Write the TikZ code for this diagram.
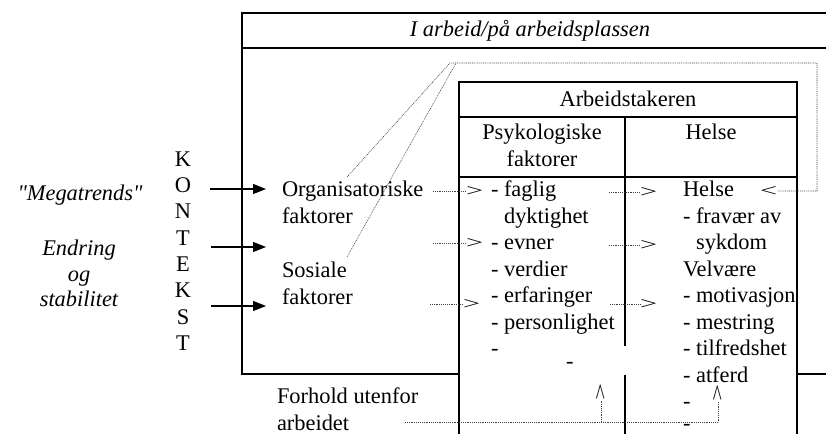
\documentclass[tikz,border=0pt]{standalone}
\usepackage{fontspec}
\setmainfont{Liberation Serif}[Ligatures=TeXOff]
\usetikzlibrary{arrows.meta}
\newcommand{\bodysize}{\fontsize{16.8pt}{19.7pt}\selectfont}
\newcommand{\chevR}{\scalebox{1.35}[0.78]{>}}
\newcommand{\chevL}{\scalebox{1.35}[0.78]{<}}
\begin{document}
\begin{tikzpicture}[x=0.75pt, y=-0.75pt, font=\bodysize,
  every node/.style={inner sep=0pt, outer sep=0pt},
  frame/.style={line width=1.1pt},
  dotline/.style={line width=0.45pt, dash pattern=on 0.7pt off 0.7pt, black!75},
  lbl/.style={anchor=base west},
  ctr/.style={anchor=base},
  tipnode/.style={anchor=west},
  push/.style={line width=0.8pt, -{Triangle[length=9.75pt,width=7.5pt]}}]
\useasboundingbox (0,0) rectangle (826,434);

% outer frame: the workplace
\draw[frame] (826,13) -- (242,13) -- (242,374) -- (459,374);
\draw[frame] (242,48) -- (826,48);
\draw[frame] (797,374) -- (826,374);
\node[ctr, font=\bodysize\itshape] (title) at (530,37) {I arbeid/på arbeidsplassen};

% inner frame: the employee
\draw[frame] (459,434) -- (459,82) -- (797,82) -- (797,434);
\draw[frame] (459,117) -- (797,117);
\draw[frame] (459,177) -- (797,177);
\draw[frame] (625,117) -- (625,346);
\draw[frame] (625,375) -- (625,434);
\node[ctr] (emp) at (628,106.5) {Arbeidstakeren};
\node[ctr] (psyA) at (542,140) {Psykologiske};
\node[ctr] (psyB) at (542,166.5) {faktorer};
\node[ctr] (helH) at (711,140) {Helse};

% column contents
\foreach \t [count=\i] in {{- faglig},{\phantom{- }dyktighet},{- evner},{- verdier},{- erfaringer},{- personlighet},{-}}
  \node[lbl] (pk\i) at (491,{170.5+26.5*\i}) {\t};
\foreach \t [count=\i] in {{Helse},{- fravær av},{\phantom{- }sykdom},{Velvære},{- motivasjon},{- mestring},{- tilfredshet},{- atferd},{-}}
  \node[lbl] (hk\i) at (683,{170.5+26.5*\i}) {\t};
\node[lbl] (hk10) at (683,431) {-};
\node[lbl] (dx) at (566,368.5) {-};

% left-hand context
\node[ctr, font=\bodysize\itshape] (mega) at (80,201) {"Megatrends"};
\node[ctr, font=\bodysize\itshape] (endA) at (79,256) {Endring};
\node[ctr, font=\bodysize\itshape] (endB) at (79,282) {og};
\node[ctr, font=\bodysize\itshape] (endC) at (79,307) {stabilitet};
\foreach \c [count=\i] in {K,O,N,T,E,K,S,T}
  \node[ctr] (kx\i) at (183,{140.1+26.3*\i}) {\c};

% factor groups
\node[lbl] (orgA) at (282,197) {Organisatoriske};
\node[lbl] (orgB) at (282,223.5) {faktorer};
\node[lbl] (sosA) at (282,278) {Sosiale};
\node[lbl] (sosB) at (282,305) {faktorer};
\node[lbl] (forA) at (277,404) {Forhold utenfor};
\node[lbl] (forB) at (277,430.5) {arbeidet};

% incoming arrows from the context
\coordinate (a1) at (210,189);  \coordinate (b1) at (266,189);
\coordinate (a2) at (211,247);  \coordinate (b2) at (266,247);
\coordinate (a3) at (211,306);  \coordinate (b3) at (266,306);
\draw[push] (a1) -- (b1);
\draw[push] (a2) -- (b2);
\draw[push] (a3) -- (b3);

% open chevron heads
\node[tipnode] (gt1) at (466,191) {\chevR};
\node[tipnode] (gt2) at (466,243) {\chevR};
\node[tipnode] (gt3) at (463,304) {\chevR};
\node[tipnode] (gt4) at (640,192) {\chevR};
\node[tipnode] (gt5) at (640,245) {\chevR};
\node[tipnode] (gt6) at (640,304) {\chevR};
\node[tipnode] (lt) at (760,191) {\chevL};
\node[rotate=90] (up1) at (601,392) {\chevR};
\node[rotate=90] (up2) at (718,393) {\chevR};

% dotted influence lines
\coordinate (d1) at (433,191);
\coordinate (d2) at (433,243);
\coordinate (d3) at (430,304);
\coordinate (m1) at (609,192);
\coordinate (m2) at (609,245);
\coordinate (m3) at (610,304);
\draw[dotline] (d1) -- (gt1.west);
\draw[dotline] (d2) -- (gt2.west);
\draw[dotline] (d3) -- (gt3.west);
\draw[dotline] (m1) -- (gt4.west);
\draw[dotline] (m2) -- (gt5.west);
\draw[dotline] (m3) -- (gt6.west);

% feedback loop from health back to the factors
\coordinate (tA) at (450,63);
\coordinate (tB) at (456,63);
\coordinate (o1) at (347,177);
\coordinate (s1) at (347,257);
\coordinate (tR) at (817,63);
\draw[dotline] (o1) -- (tA) -- (tR) -- (tR |- lt.east) -- (lt.east);
\draw[dotline] (s1) -- (tB);

% conditions outside work
\coordinate (fb) at (405,422);
\draw[dotline] (fb) -- (fb -| up2.west) -- (up2.west);
\draw[dotline] (fb -| up1.west) -- (up1.west);
\end{tikzpicture}
\end{document}
